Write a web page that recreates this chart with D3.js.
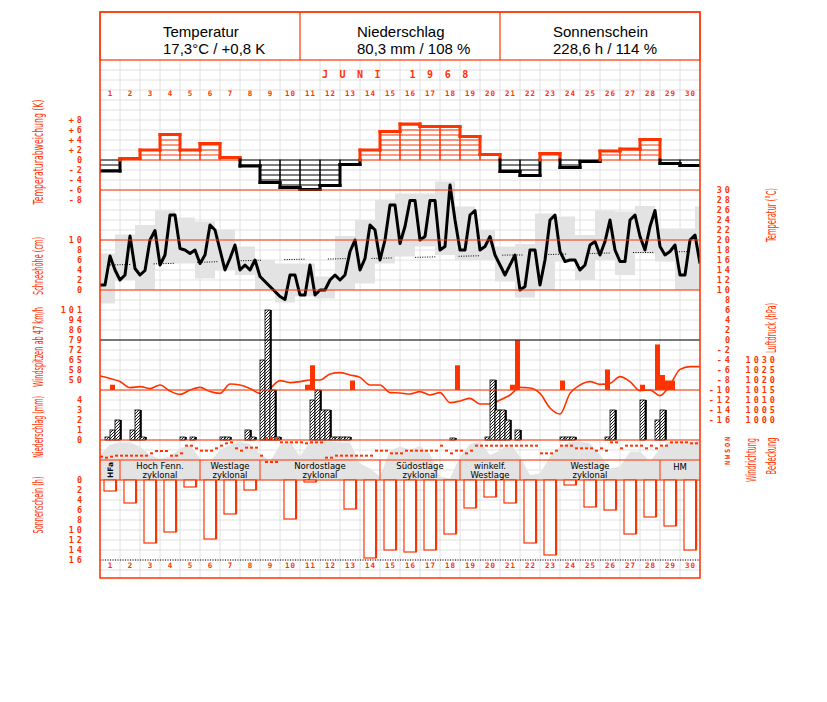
<!DOCTYPE html>
<html lang="de">
<head>
<meta charset="UTF-8">
<title>Juni 1968</title>
<style>
  body { margin: 0; background: #fff; }
  svg { display: block; }
</style>
</head>
<body>
<svg id="chart" width="827" height="702"></svg>
<script src="https://d3js.org/d3.v7.min.js"></script>
<script>
// Tage
const dayLabels = ["1","2","3","4","5","6","7","8","9","10","11","12","13","14","15","16","17","18","19","20","21","22","23","24","25","26","27","28","29","30"];
// Temperaturabweichung je Tag (K)
const anomaly = [-2.2,0.3,2.0,5.1,2.0,3.3,0.5,-1.2,-4.5,-5.5,-5.9,-5.1,-0.9,2.0,5.7,7.2,6.7,6.7,4.7,1.1,-2.3,-3.1,1.3,-1.5,-0.3,1.8,2.2,4.1,-0.7,-1.1];
// Temperatur, 6-stündlich (°C)
const temp6h = [11.0,11.0,16.8,14.0, 12.0,13.0,20.8,14.3, 13.0,13.9,20.0,21.9, 15.0,17.0,25.0,25.0,
  18.3,18.0,17.3,18.0, 15.3,17.0,23.0,22.0, 18.0,14.0,16.3,19.0, 14.0,15.0,14.0,16.0,
  12.7,11.7,10.7,9.7, 8.7,8.1,13.0,13.0, 9.0,9.0,15.0,9.0, 10.0,10.0,12.0,13.0,
  12.0,13.0,17.7,20.0, 14.0,16.3,23.0,22.0, 16.0,20.0,27.0,27.0, 19.3,22.7,27.9,27.9,
  20.0,20.7,27.9,27.9, 18.0,18.7,31.0,24.0, 18.0,18.0,25.0,25.9, 18.0,18.7,20.7,17.0,
  15.0,13.0,15.0,17.0, 10.0,10.7,18.0,18.0, 11.0,16.0,24.0,25.0, 17.7,15.7,16.0,16.0,
  14.0,15.0,19.0,19.7, 17.0,19.7,24.0,18.0, 15.7,15.7,24.0,25.0, 20.7,18.0,22.7,25.9,
  18.7,17.0,17.7,19.0, 13.0,13.0,20.0,21.0, 15.3];
// Tagesmaximum / -minimum (18 bis 18 Uhr), letzter Wert = 1. Juli
const tMax = [17.3,21.1,23.0,25.9,24.5,23.7,22.1,18.7,16.0,15.3,15.3,12.7,20.8,24.0,28.0,29.3,29.3,31.7,26.7,22.0,18.7,19.2,25.3,24.7,21.0,25.9,25.7,26.8,22.3,22.3,26.7];
const tMin = [7.3,12.0,10.0,15.3,15.3,12.3,14.0,13.0,10.0,7.5,8.7,8.3,10.0,11.3,15.3,16.7,18.7,17.0,16.0,16.0,11.7,8.5,10.0,15.7,12.0,16.0,13.0,17.3,15.7,10.0,10.0];
// Klimamittel der Tagestemperatur
const tNormal = [15.0,15.1,15.2,15.3,15.5,15.6,15.8,15.9,16.0,16.1,16.2,16.2,16.3,16.3,16.4,16.5,16.6,16.7,16.8,16.9,17.0,17.0,17.1,17.2,17.3,17.4,17.5,17.5,17.6,17.7];
// Windspitzen: [6h-Abschnitt, km/h]
const gustSlot = [2,41,42,50,71,82,83,92,101,108,111,112,113,114];
const gustKmh  = [47,47,61,50,61,47,79,50,58,47,76,54,50,50];
// Luftdruck, 12-stündlich (hPa)
const pressure = [1022.0,1020.8,1019.2,1016.2,1016.7,1015.7,1017.5,1014.5,1012.8,1015.0,
  1016.3,1014.2,1013.3,1018.0,1017.5,1015.8,1013.3,1015.8,1019.7,1018.7,
  1019.2,1020.0,1020.0,1023.0,1023.7,1022.5,1021.3,1017.5,1017.5,1013.7,
  1013.5,1013.0,1014.2,1012.5,1013.7,1008.7,1009.5,1010.8,1008.0,1008.0,
  1010.0,1012.5,1016.3,1016.0,1013.3,1006.0,1003.0,1013.3,1017.5,1019.2,
  1017.8,1018.3,1021.7,1019.2,1014.7,1015.0,1012.2,1017.5,1025.3,1026.7,1026.7];
// Niederschlag: [6h-Abschnitt, mm]
const rainSlot = [1,2,3,6,7,8,16,18,24,25,29,30,32,33,34,35,42,43,44,45,46,47,48,49,70,77,78,79,80,81,83,92,93,94,101,102,108,111,112];
const rainMm   = [0.3,1,2,1,3,0.3,0.3,0.3,0.3,0.3,1,0.3,8,13,5,0.3,4,5,3,3,0.3,0.3,0.3,0.3,0.2,0.3,6,3,3,2,1,0.3,0.3,0.3,0.3,3,4,2,3];
// Windrichtung, 6-stündlich (Grad)
const windDir = [265,280,265,250,250,250,250,250,250,250,215,180,180,180,250,250,215,100,100,140,
  175,175,175,140,100,65,50,140,175,130,130,130,250,345,345,345,50,50,50,50,
  50,65,50,50,50,280,280,250,250,250,250,250,250,250,250,175,175,175,215,215,
  215,175,175,175,175,175,175,175,100,175,215,175,175,215,175,100,100,100,100,100,
  100,100,100,100,100,100,100,100,215,215,215,175,100,100,100,140,140,140,140,175,
  140,175,50,50,140,100,100,100,100,140,100,140,100,100,50,50,50,50,65,65];
// Bedeckung, 12-stündlich (Achtel)
const cloud = [5,7.1,7.5,7.5,6.7,5,4.2,4.7,6.3,7, 4.3,3.7,6,7,7.6,7.2,5.3,3.7,7,7.7,
  4.7,7.7,7.7,7.7,7.5,7.5,3.3,2.3,0.7,5.9, 6.7,6.1,6.8,5.2,0.7,0.3,4.7,7.2,7.6,5,
  5.9,7.3,4.7,1,1.3,4.7,6.7,7.6,7.7,7.3, 5,2.3,2.7,5.7,5.7,3.7,6.3,7.7,7.7,7.7, 7.7];
// Sonnenscheindauer je Tag (h)
const sunshine = [2.2,4.6,12.6,10.4,1.4,11.8,6.8,2.0,0,7.8,0.4,0,5.8,15.6,14.0,14.4,14.0,10.8,5.6,3.4,4.6,12.6,15.0,1.0,5.4,6.0,10.8,7.4,9.2,14.0];
// Großwetterlagen
const wlFrom = [1,2,6,9,15,19,22,29];
const wlTo   = [1,5,8,14,18,21,28,30];
const wlText1 = ["HFa","Hoch Fenn.","Westlage","Nordostlage","Südostlage","winkelf.","Westlage","HM"];
const wlText2 = ["","zyklonal","zyklonal","zyklonal","zyklonal","Westlage","zyklonal",""];
// Kopfzeile
const headTitle = ["Temperatur","Niederschlag","Sonnenschein"];
const headValue = ["17,3°C / +0,8 K","80,3 mm / 108 %","228,6 h / 114 %"];

const RED = "#ff3300";
const svg = d3.select("#chart");
svg.append("rect").attr("width",827).attr("height",702).attr("fill","#fff");

// Skalen
const x = d3.scaleLinear().domain([0,30]).range([100,700]);      // Tage
const yAnom = d3.scaleLinear().domain([-8,8]).range([200,120]);
const yTemp = d3.scaleLinear().domain([-16,30]).range([420,190]);
const ySnow = d3.scaleLinear().domain([0,10]).range([290,240]);
const yGust = d3.scaleLinear().domain([43.2,100.8]).range([390,310]);
const yRain = d3.scaleLinear().domain([0,4]).range([440,400]);
const yPres = d3.scaleLinear().domain([1000,1030]).range([420,360]);
const yDir  = d3.scaleLinear().domain([0,360]).range([439,463]);
const yCloud = d3.scaleLinear().domain([0,8]).range([480,440]);
const ySun  = d3.scaleLinear().domain([0,16]).range([480,560]);

svg.append("clipPath").attr("id","plot").append("rect")
  .attr("x",100).attr("y",60).attr("width",600).attr("height",518);
svg.append("defs").append("pattern").attr("id","hatch")
  .attr("patternUnits","userSpaceOnUse").attr("width",3).attr("height",3)
  .call(p => {
    p.append("rect").attr("width",3).attr("height",3).attr("fill","#fff");
    p.append("path").attr("d","M-1,1 L1,-1 M0,3 L3,0 M2,4 L4,2").attr("stroke","#000").attr("stroke-width",0.9);
  });

// Raster
const grid = svg.append("g").attr("stroke","#e0e0e0").attr("stroke-width",1);
d3.range(0,31).forEach(d => grid.append("line").attr("x1",x(d)).attr("x2",x(d)).attr("y1",60).attr("y2",578));
d3.range(70,578,10).forEach(y => grid.append("line").attr("x1",100).attr("x2",700).attr("y1",y).attr("y2",y));

const plot = svg.append("g").attr("clip-path","url(#plot)");

// Temperaturspanne (grau)
plot.append("g").selectAll("rect").data(tMax).join("rect")
  .attr("x",(d,i) => x(i)-5).attr("width",x(1)-x(0))
  .attr("y",d => yTemp(d)).attr("height",(d,i) => yTemp(tMin[i])-yTemp(d))
  .attr("fill","#e3e3e3");

// Bedeckung (grau)
plot.append("path").datum(cloud)
  .attr("d",d3.area().x((d,i) => x(i/2)).y0(yCloud(0)).y1(d => yCloud(d)))
  .attr("fill","#e3e3e3");

// Temperaturabweichung: Balken mit Schraffur
const anomG = plot.append("g");
anomaly.forEach((v,i) => {
  const c = v >= 0 ? RED : "#000", s = Math.sign(v);
  anomG.append("rect").attr("x",x(i)).attr("width",x(1)-x(0))
    .attr("y",Math.min(yAnom(v),yAnom(0))).attr("height",Math.abs(yAnom(v)-yAnom(0)))
    .attr("fill","none").attr("stroke",c).attr("stroke-width",1);
  d3.range(1,Math.ceil(Math.abs(v))).forEach(k => {
    anomG.append("line").attr("x1",x(i)).attr("x2",x(i+1))
      .attr("y1",yAnom(s*k)).attr("y2",yAnom(s*k)).attr("stroke",c).attr("stroke-width",1);
  });
});
// dicke Stufenlinie
const segs = [];
anomaly.forEach((v,i) => {
  segs.push([x(i),yAnom(v),x(i+1),yAnom(v),v >= 0]);
  if (i > 0) {
    const a = anomaly[i-1];
    if (a*v >= 0) segs.push([x(i),yAnom(a),x(i),yAnom(v),(a+v) >= 0]);
    else { segs.push([x(i),yAnom(a),x(i),yAnom(0),a >= 0]); segs.push([x(i),yAnom(0),x(i),yAnom(v),v >= 0]); }
  }
});
anomG.selectAll("line.step").data(segs).join("line").attr("class","step")
  .attr("x1",d => d[0]).attr("y1",d => d[1]).attr("x2",d => d[2]).attr("y2",d => d[3])
  .attr("stroke",d => d[4] ? RED : "#000").attr("stroke-width",3).attr("stroke-linecap","square");

// Linien der Felder
[190,240,290,390,440,460,480].forEach(y => svg.append("line").attr("x1",100).attr("x2",700)
  .attr("y1",y).attr("y2",y).attr("stroke",RED).attr("stroke-width",1.2));
svg.append("line").attr("x1",100).attr("x2",700).attr("y1",yGust(79.2)).attr("y2",yGust(79.2))
  .attr("stroke","#000").attr("stroke-width",1);

// Klimamittel (punktiert)
const dash = d3.range(9).flatMap(() => [1,1.4]).concat([0.001,22]);
plot.append("path").datum(tNormal)
  .attr("d",d3.line().x((d,i) => x(i+0.5)).y(d => yTemp(d)))
  .attr("fill","none").attr("stroke","#000").attr("stroke-width",1)
  .attr("stroke-dasharray",dash.join(","));

// Temperaturkurve
plot.append("path").datum(temp6h)
  .attr("d",d3.line().x((d,i) => x(i/4)).y(d => yTemp(d)))
  .attr("fill","none").attr("stroke","#000").attr("stroke-width",3).attr("stroke-linejoin","round");

// Windspitzen
plot.append("g").selectAll("rect").data(gustKmh).join("rect")
  .attr("x",(d,i) => x(gustSlot[i]/4)).attr("width",x(0.25)-x(0))
  .attr("y",d => yGust(d)).attr("height",d => yGust(43.2)-yGust(d))
  .attr("fill",RED);

// Luftdruck
plot.append("path").datum(pressure)
  .attr("d",d3.line().x((d,i) => x(i/2)).y(d => yPres(d)).curve(d3.curveMonotoneX))
  .attr("fill","none").attr("stroke",RED).attr("stroke-width",1.6);

// Niederschlag
const rainG = plot.append("g");
rainMm.forEach((v,i) => {
  const x0 = x(rainSlot[i]/4), w = x(0.25)-x(0);
  rainG.append("rect").attr("x",x0).attr("y",yRain(v)).attr("width",w).attr("height",yRain(0)-yRain(v))
    .attr("fill","url(#hatch)").attr("stroke","#000").attr("stroke-width",0.8);
  rainG.append("rect").attr("x",x0+w).attr("y",yRain(v)).attr("width",1.8).attr("height",yRain(0)-yRain(v))
    .attr("fill","#000");
});

// Windrichtung
const dirG = plot.append("g").attr("fill",RED);
windDir.forEach((d,i) => {
  dirG.append("rect").attr("x",x(i/4)).attr("y",yDir(d)-1).attr("width",3).attr("height",2);
  if (d > 330) dirG.append("rect").attr("x",x(i/4)).attr("y",yDir(d-360)-1).attr("width",3).attr("height",2);
});

// Großwetterlagen
const wlG = svg.append("g");
wlFrom.forEach((f,i) => {
  if (i > 0) wlG.append("line").attr("x1",x(f-1)).attr("x2",x(f-1)).attr("y1",460).attr("y2",480)
    .attr("stroke",RED).attr("stroke-width",1);
  const cx = (x(f-1)+x(wlTo[i]))/2;
  if (wlTo[i] === f) {
    wlG.append("text").attr("transform",`translate(${cx+3},470) rotate(-90)`)
      .attr("text-anchor","middle").attr("font-family","DejaVu Sans").attr("font-size",7.5)
      .attr("font-weight","bold").text(wlText1[i]);
  } else {
    wlG.append("text").attr("x",cx).attr("y",wlText2[i] ? 469 : 470).attr("text-anchor","middle")
      .attr("font-family","DejaVu Sans").attr("font-size",8.5).text(wlText1[i]);
    if (wlText2[i]) wlG.append("text").attr("x",cx).attr("y",477.5).attr("text-anchor","middle")
      .attr("font-family","DejaVu Sans").attr("font-size",8.5).text(wlText2[i]);
  }
});

// Sonnenschein
const sunG = svg.append("g");
sunshine.forEach((v,i) => {
  if (v <= 0) return;
  const x0 = x(i)+4, w = 12;
  sunG.append("rect").attr("x",x0).attr("y",ySun(0)).attr("width",w).attr("height",ySun(v)-ySun(0))
    .attr("fill","#fff").attr("stroke",RED).attr("stroke-width",1.2);
  sunG.append("rect").attr("x",x0+w-1).attr("y",ySun(0)).attr("width",2.2).attr("height",ySun(v)-ySun(0))
    .attr("fill",RED);
});
svg.append("line").attr("x1",100).attr("x2",700).attr("y1",ySun(16)).attr("y2",ySun(16))
  .attr("stroke","#000").attr("stroke-width",1).attr("stroke-dasharray","1,1.5");

// Achsen
function axis(scale, vals, fmt, xPos) {
  const g = svg.append("g").attr("transform",`translate(${xPos},0)`)
    .call(d3.axisLeft(scale).tickValues(vals).tickFormat(fmt).tickSize(0).tickPadding(0));
  g.select(".domain").remove();
  g.attr("font-family","DejaVu Sans Mono").attr("font-size",8.5).attr("font-weight","bold");
  g.selectAll("text").attr("fill",RED).attr("letter-spacing",3).attr("dy","0.35em");
  return g;
}
const signed = d => d > 0 ? "+" + d : d < 0 ? "-" + (-d) : "0";
axis(yAnom,[8,6,4,2,0,-2,-4,-6,-8],signed,85);
axis(ySnow,[10,8,6,4,2,0],d => d,85);
axis(yGust,[100.8,93.6,86.4,79.2,72,64.8,57.6,50.4],d => Math.round(d),85);
axis(yRain,[4,3,2,1,0],d => d,85);
axis(ySun,d3.range(0,17,2),d => d,85);
axis(yTemp,d3.range(30,-17,-2),d => d < 0 ? "-" + (-d) : d,733);
axis(yPres,[1030,1025,1020,1015,1010,1005,1000],d => d,778);
// Windrichtung-Buchstaben
["N","O","S","W","N"].forEach((t,i) => svg.append("text")
  .attr("transform",`translate(730,${yDir(i*90)}) rotate(-90)`).attr("text-anchor","middle")
  .attr("font-family","DejaVu Sans Mono").attr("font-size",7).attr("font-weight","bold")
  .attr("fill",RED).text(t));

// Achsentitel (gedreht)
const titles = [
  ["Temperaturabweichung (K)",43,152,105],
  ["Schneehöhe (cm)",43,266,58],
  ["Windspitzen ab 47 km/h",43,347,80],
  ["Niederschlag (mm)",43,427,62],
  ["Sonnenschein (h)",43,505,57],
  ["Temperatur (°C)",776,215,54],
  ["Luftdruck (hPa)",776,328,50],
  ["Windrichtung",756,460,44],
  ["Bedeckung",776,456,37]
];
titles.forEach(([t,tx,ty,len]) => svg.append("text")
  .attr("transform",`translate(${tx},${ty}) rotate(-90)`).attr("x",-len/2)
  .attr("textLength",len).attr("lengthAdjust","spacingAndGlyphs")
  .attr("font-family","Liberation Sans Narrow, DejaVu Sans Condensed, sans-serif")
  .attr("font-size",13.5).attr("fill",RED).text(t));

// Tageszahlen und Monat
[96,568].forEach(y => svg.append("g").selectAll("text").data(dayLabels).join("text")
  .attr("x",(d,i) => x(i+0.5)+0.5).attr("y",y).attr("text-anchor","middle")
  .attr("font-family","DejaVu Sans Mono").attr("font-size",7.5).attr("font-weight","bold")
  .attr("letter-spacing",1).attr("fill",RED).text(d => d));
svg.append("text").attr("x",322).attr("y",78)
  .attr("font-family","DejaVu Sans Mono").attr("font-size",10).attr("font-weight","bold")
  .attr("letter-spacing",11.5).attr("fill",RED).text("JUNI 1968");

// Kopf
svg.append("rect").attr("x",100).attr("y",12).attr("width",600).attr("height",48)
  .attr("fill","#fff").attr("stroke",RED).attr("stroke-width",1.2);
[300,500].forEach(xx => svg.append("line").attr("x1",xx).attr("x2",xx).attr("y1",12).attr("y2",60)
  .attr("stroke",RED).attr("stroke-width",1.2));
const headX = [163,357,553];
headTitle.forEach((t,i) => {
  svg.append("text").attr("x",headX[i]).attr("y",37).attr("font-family","Liberation Sans")
    .attr("font-size",15).attr("fill","#000").text(t);
  svg.append("text").attr("x",headX[i]).attr("y",54).attr("font-family","Liberation Sans")
    .attr("font-size",15).attr("fill","#000").text(headValue[i]);
});

// Rahmen
svg.append("rect").attr("x",100).attr("y",12).attr("width",600).attr("height",566)
  .attr("fill","none").attr("stroke",RED).attr("stroke-width",1.5);
</script>
</body>
</html>
